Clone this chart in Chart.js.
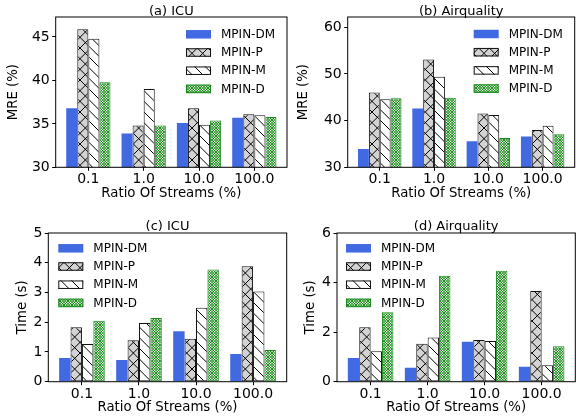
<!DOCTYPE html>
<html><head><meta charset="utf-8">
<script src="https://cdn.jsdelivr.net/npm/chart.js@4.4.0/dist/chart.umd.min.js"></script>
<style>
html,body{margin:0;padding:0;background:#fff;}
#wrap{position:relative;width:584px;height:418px;overflow:hidden;background:#fff;}
canvas{position:absolute;}
</style></head><body>
<div id="wrap">
<canvas id="c0" style="left:0px;top:0px;width:292px;height:209px" width="292" height="209"></canvas>
<canvas id="c1" style="left:292px;top:0px;width:292px;height:209px" width="292" height="209"></canvas>
<canvas id="c2" style="left:0px;top:209px;width:292px;height:209px" width="292" height="209"></canvas>
<canvas id="c3" style="left:292px;top:209px;width:292px;height:209px" width="292" height="209"></canvas>
</div>
<script>
// ---- data ----
const categories = ['0.1', '1.0', '10.0', '100.0'];
const seriesNames = ['MPIN-DM', 'MPIN-P', 'MPIN-M', 'MPIN-D'];

const icuMreDM = [36.8, 33.9, 35.1, 35.7];
const icuMreP  = [45.9, 34.8, 36.8, 36.1];
const icuMreM  = [44.8, 39.0, 34.9, 36.0];
const icuMreD  = [39.8, 34.8, 35.4, 35.8];

const airMreDM = [33.9, 42.6, 35.6, 36.6];
const airMreP  = [46.0, 53.1, 41.5, 38.0];
const airMreM  = [44.6, 49.4, 41.2, 38.9];
const airMreD  = [44.8, 44.9, 36.3, 37.1];

const icuTimeDM = [0.80, 0.73, 1.70, 0.93];
const icuTimeP  = [1.83, 1.39, 1.44, 3.88];
const icuTimeM  = [1.27, 1.97, 2.49, 3.03];
const icuTimeD  = [2.05, 2.14, 3.77, 1.07];

const airTimeDM = [0.96, 0.56, 1.61, 0.60];
const airTimeP  = [2.20, 1.53, 1.68, 3.66];
const airTimeM  = [1.23, 1.78, 1.64, 0.66];
const airTimeD  = [2.80, 4.28, 4.48, 1.43];

const mreTicksICU = [30, 35, 40, 45];
const mreTicksAir = [30, 40, 50, 60];
const timeTicksICU = [0, 1, 2, 3, 4, 5];
const timeTicksAir = [0, 2, 4, 6];

// ---- styles ----
const FONT = 'DejaVu Sans';
function hatch(bg, color, n, dirs, lw) {
  const T = 32;
  const cv = document.createElement('canvas');
  cv.width = T; cv.height = T;
  const g = cv.getContext('2d');
  if (bg) { g.fillStyle = bg; g.fillRect(0, 0, T, T); }
  g.strokeStyle = color; g.lineWidth = lw;
  const s = T / n;
  g.beginPath();
  for (let k = -3 * n; k <= 4 * n; k++) {
    const c0 = k * s;
    if (dirs.includes('/')) { g.moveTo(c0 + T, -T); g.lineTo(c0 - 2 * T, 2 * T); }
    if (dirs.includes('\\')) { g.moveTo(c0 - T, -T); g.lineTo(c0 + 2 * T, 2 * T); }
  }
  g.stroke();
  return g.createPattern(cv, 'repeat');
}
const patP = hatch('#d3d3d3', '#000', 3, '/\\', 1);
const patM = hatch('#ffffff', '#000', 3, '\\', 1);
const patD = hatch('#ffffff', '#008000', 12, '/\\', 0.9);
const seriesStyles = [
  {backgroundColor: '#4169E1', borderColor: '#4169E1', borderWidth: 0},
  {backgroundColor: patP, borderColor: '#111', borderWidth: 1},
  {backgroundColor: patM, borderColor: '#111', borderWidth: 1},
  {backgroundColor: patD, borderColor: '#1a8a1a', borderWidth: 1}
];

const framePlugin = {
  id: 'frame',
  afterDatasetsDraw(chart) {
    const a = chart.chartArea, ctx = chart.ctx;
    ctx.save();
    ctx.strokeStyle = '#000'; ctx.lineWidth = 1;
    ctx.strokeRect(a.left, a.top, a.right - a.left, a.bottom - a.top);
    ctx.restore();
  }
};
const legendPlugin = {
  id: 'innerLegend',
  afterDraw(chart, args, opts) {
    const a = chart.chartArea, ctx = chart.ctx;
    ctx.save();
    ctx.font = opts.fontSize + 'px "' + FONT + '"';
    ctx.textBaseline = 'middle'; ctx.textAlign = 'left';
    chart.data.datasets.forEach((ds, i) => {
      const x = a.left + opts.dx, yc = a.top + opts.dy + i * opts.row;
      const y = yc - opts.boxH / 2;
      ctx.fillStyle = ds.backgroundColor;
      ctx.fillRect(x, y, opts.boxW, opts.boxH);
      if (ds.borderWidth) {
        ctx.strokeStyle = ds.borderColor; ctx.lineWidth = ds.borderWidth;
        ctx.strokeRect(x + 0.5, y + 0.5, opts.boxW - 1, opts.boxH - 1);
      }
      ctx.fillStyle = '#000';
      ctx.fillText(ds.label, x + opts.boxW + opts.gap, yc + 0.5);
    });
    ctx.restore();
  }
};

function makePanel(id, p) {
  const toXY = arr => arr.map((v, i) => ({x: i, y: v}));
  const datasets = p.series.map((arr, i) => Object.assign({
    label: seriesNames[i], data: toXY(arr), borderSkipped: false, clip: 0
  }, seriesStyles[i]));
  const tickFont = {family: FONT, size: 14};
  const labFont = {family: FONT, size: 13.3, lineHeight: 1.2};
  const lhLab = 13.3 * 1.2;
  const lhT = 11;
  new Chart(document.getElementById(id), {
    type: 'bar',
    data: {datasets},
    options: {
      responsive: false, animation: false,
      categoryPercentage: 0.8, barPercentage: 1.0,
      layout: {padding: {left: 0, right: 292 - p.plotR, top: 0, bottom: 0}},
      plugins: {
        legend: {display: false}, tooltip: {enabled: false},
        title: {display: true, text: p.title, fullSize: false, color: '#000',
          font: {family: FONT, size: 13, weight: 'normal', lineHeight: lhT / 13},
          padding: {top: p.titleMid - lhT / 2, bottom: Math.max(0, p.plotT - (p.titleMid - lhT / 2) - lhT)}},
        innerLegend: Object.assign({boxW: 25, boxH: 8.5, gap: 10, row: 18.2, fontSize: 12}, p.legend)
      },
      scales: {
        x: {
          type: 'linear', min: -0.59, max: 3.59, offset: false, bounds: 'data',
          afterBuildTicks: s => { s.ticks = categories.map((c, i) => ({value: i})); },
          afterFit: s => { s.height = 209 - p.plotB; },
          grid: {display: true, drawOnChartArea: false, drawTicks: true, tickLength: 3.5, color: '#000', offset: false},
          border: {display: false},
          ticks: {font: tickFont, color: '#000', padding: 0.5, autoSkip: false, maxRotation: 0,
            callback: v => categories[v]},
          title: {display: true, text: 'Ratio Of Streams (%)', color: '#000', font: labFont,
            padding: {top: 0, bottom: 209 - lhLab / 2 - p.xTitleY}}
        },
        y: {
          type: 'linear', min: p.ymin, max: p.ymax, bounds: 'data',
          afterBuildTicks: s => { s.ticks = p.yTicks.map(v => ({value: v})); },
          afterFit: s => { s.width = p.plotL; },
          grid: {display: true, drawOnChartArea: false, drawTicks: true, tickLength: 3.5, color: '#000'},
          border: {display: false},
          ticks: {font: tickFont, color: '#000', padding: 2.5, callback: v => String(v)},
          title: {display: true, text: p.yTitle, color: '#000', font: labFont,
            padding: {top: p.yTitleX - lhLab / 2, bottom: 0}}
        }
      }
    },
    plugins: [framePlugin, legendPlugin]
  });
}

makePanel('c0', {title: '(a) ICU', yTitle: 'MRE (%)', series: [icuMreDM, icuMreP, icuMreM, icuMreD],
  ymin: 30, ymax: 47.3, yTicks: mreTicksICU,
  plotL: 55.7, plotR: 287, plotT: 17, plotB: 167.3, titleMid: 11.2, yTitleX: 13.3, xTitleY: 193.5,
  legend: {dx: 130.3, dy: 17.3}});
makePanel('c1', {title: '(b) Airquality', yTitle: 'MRE (%)', series: [airMreDM, airMreP, airMreM, airMreD],
  ymin: 30, ymax: 62.2, yTicks: mreTicksAir,
  plotL: 55.7, plotR: 282.7, plotT: 17, plotB: 167.3, titleMid: 11.2, yTitleX: 11.7, xTitleY: 193.5,
  legend: {dx: 126, dy: 17}});
makePanel('c2', {title: '(c) ICU', yTitle: 'Time (s)', series: [icuTimeDM, icuTimeP, icuTimeM, icuTimeD],
  ymin: 0, ymax: 5, yTicks: timeTicksICU,
  plotL: 48.3, plotR: 286.7, plotT: 24, plotB: 172.7, titleMid: 17.5, yTitleX: 22.7, xTitleY: 198.3,
  legend: {dx: 10, dy: 15.3}});
makePanel('c3', {title: '(d) Airquality', yTitle: 'Time (s)', series: [airTimeDM, airTimeP, airTimeM, airTimeD],
  ymin: 0, ymax: 6, yTicks: timeTicksAir,
  plotL: 45, plotR: 283.3, plotT: 24, plotB: 172.7, titleMid: 17.5, yTitleX: 19, xTitleY: 198.3,
  legend: {dx: 9, dy: 15.3}});
</script>
</body></html>
